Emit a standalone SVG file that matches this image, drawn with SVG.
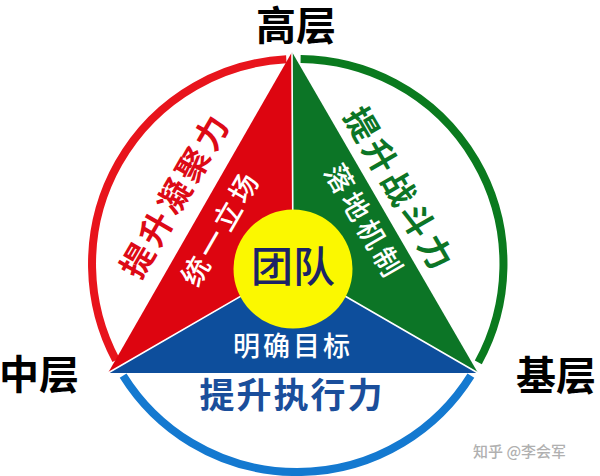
<svg xmlns="http://www.w3.org/2000/svg" width="600" height="476" viewBox="0 0 600 476">
<style>
text{font-family:"Noto Sans CJK SC","Noto Sans",sans-serif;font-weight:500;}
.lvl{font-size:40px;font-weight:bold;fill:#000;}
.rot{text-anchor:middle;dominant-baseline:central;}
.b{font-weight:bold;}
.arc{fill:none;stroke-width:8;}
.sep{stroke:#fff;stroke-width:1.6;fill:none;}
</style>
<rect width="600" height="476" fill="#fff"/>
<g id="connectors">
<path class="arc" stroke="#E8141C" d="M116.0,360.2 A205,205 0 0 1 286.3,59.3"/>
<path class="arc" stroke="#0A7A1E" d="M300.6,59.0 A205,205 0 0 1 478.3,362.4"/>
<path class="arc" stroke="#1479D0" d="M470.9,375.6 A205,205 0 0 1 123.1,375.6"/>
</g>
<g id="node-red">
<polygon points="292,52 293,266 108,373" fill="#DD0510"/>
</g>
<g id="node-green">
<polygon points="292,52 478,373 293,266" fill="#0C7526"/>
</g>
<g id="node-blue">
<polygon points="108,373 293,266 478,373" fill="#0D4E9C"/>
</g>
<g id="separators">
<path class="sep" d="M292,52 L293,266 M108,373 L293,266 L478,373"/>
</g>
<g id="node-team">
<circle cx="293" cy="269" r="59.5" fill="#FBF800"/>
<text x="293" y="282" text-anchor="middle" font-size="42" font-weight="bold" fill="#1B2466">团队</text>
</g>
<g id="labels">
<text x="296" y="40" text-anchor="middle" class="lvl" font-size="39">高层</text>
<text x="-1" y="389" class="lvl">中层</text>
<text x="516" y="390" class="lvl">基层</text>
<text transform="translate(174,194) rotate(-60)" class="rot b" font-size="33" letter-spacing="4" fill="#DD0A16">提升凝聚力</text>
<text transform="translate(219,227) rotate(-60)" class="rot" font-size="28" letter-spacing="4" fill="#fff">统一立场</text>
<text transform="translate(401,189) rotate(60)" class="rot b" font-size="33" letter-spacing="4" fill="#0C7526">提升战斗力</text>
<text transform="translate(366,221) rotate(60)" class="rot" font-size="28" letter-spacing="4" fill="#fff">落地机制</text>
<text x="293" y="356" text-anchor="middle" font-size="27" letter-spacing="3" fill="#fff">明确目标</text>
<text x="292" y="408" text-anchor="middle" class="b" font-size="35" letter-spacing="2" fill="#1A4E9B">提升执行力</text>
<text x="473" y="457" font-size="15" font-weight="normal" fill="#B0B0B0">知乎 @李会军</text>
</g>
</svg>
